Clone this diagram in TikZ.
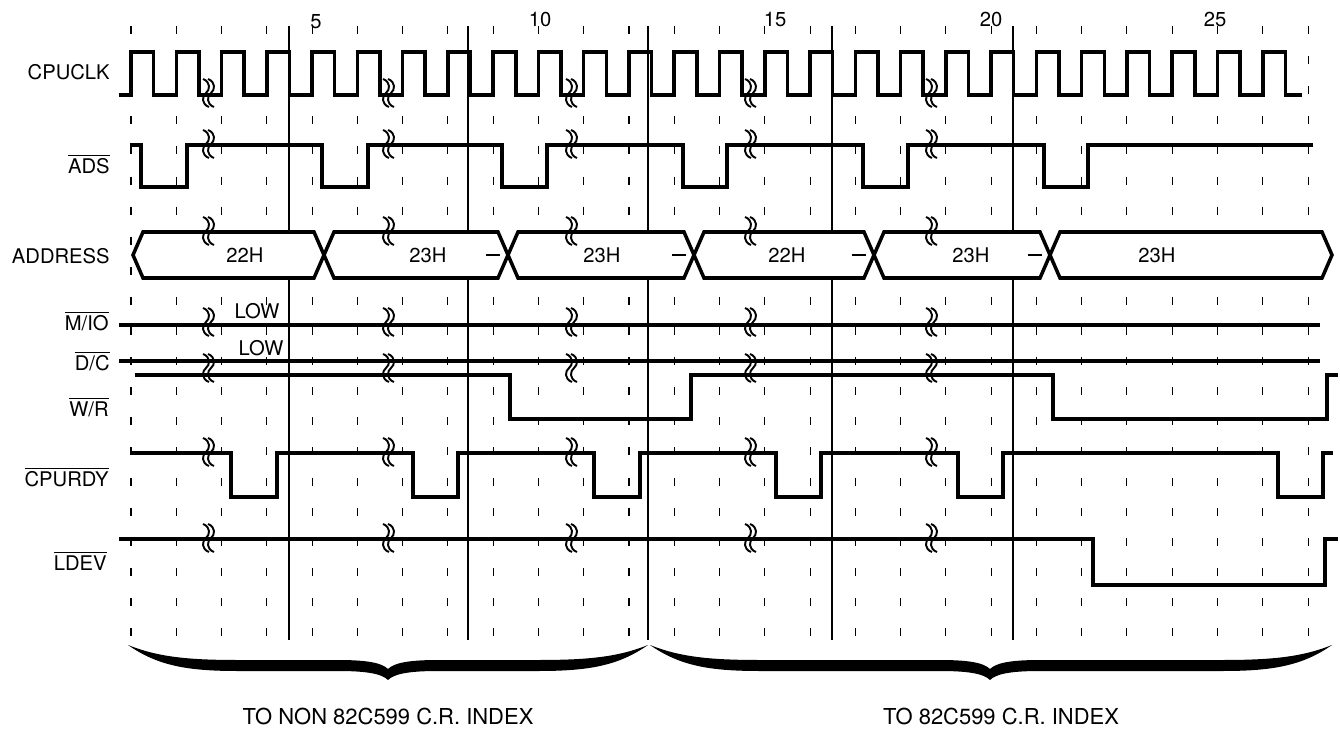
\documentclass[tikz,border=0pt]{standalone}
\usepackage{fontspec}
\setmainfont{TeX Gyre Heros}
\newcommand{\ovl}[1]{$\overline{\hbox{#1}}$}
\begin{document}
\begin{tikzpicture}[x=0.02cm,y=-0.02cm,
  sig/.style={line width=2pt, line join=miter, line cap=butt},
  tck/.style={line width=0.6pt},
  vline/.style={line width=0.6pt},
  squig/.style={line width=1.1pt},
  lbl/.style={anchor=base east, inner sep=0pt, font=\fontsize{11.5}{13}\selectfont},
  txt/.style={anchor=base, inner sep=0pt, font=\fontsize{11.5}{13}\selectfont},
  bigtxt/.style={anchor=base, inner sep=0pt, font=\fontsize{12.5}{14}\selectfont},
  squiggle/.pic={
    \draw[squig] (-5,-14) .. controls (3,-11) and (2,-3) .. (-2,0) .. controls (-6,3) and (-7,11) .. (1,14);
    \draw[squig] (0,-14) .. controls (8,-11) and (7,-3) .. (3,0) .. controls (-1,3) and (-2,11) .. (6,14);
  }]
\useasboundingbox (0,0) rectangle (1340,730);

% tick grid
\foreach \k in {0,...,26}{
  \foreach \n in {0,...,20}{
    \draw[tck] ({131+45.27*\k},{26+30.1*\n}) -- ++(0,8);
  }
}

% cycle boundaries
\foreach \x in {289,468,648,832,1013} \draw[vline] (\x,26) -- (\x,640);

% clock numbers
\node[txt] (n5)  at (316,29) {5};
\node[txt] (n10) at (540,27) {10};
\node[txt] (n15) at (775,27) {15};
\node[txt] (n20) at (991,27) {20};
\node[txt] (n25) at (1215,27) {25};

% labels
\node[lbl] (lclk)  at (110,79)  {CPUCLK};
\node[lbl] (lads)  at (110,173) {\ovl{ADS}};
\node[lbl] (laddr) at (110,263) {ADDRESS};
\node[lbl] (lmio)  at (109,330) {\ovl{M/IO}};
\node[lbl] (ldc)   at (110,370) {\ovl{D/C}};
\node[lbl] (lwr)   at (109,416) {\ovl{W/R}};
\node[lbl] (lrdy)  at (109,486) {\ovl{CPURDY}};
\node[lbl] (ldev)  at (107,570) {\ovl{LDEV}};

% CPUCLK
\draw[sig] (119,95) \foreach \k in {0,...,25}{
  -- ({131+45.27*\k},95) -- ({131+45.27*\k},52) -- ({153.6+45.27*\k},52) -- ({153.6+45.27*\k},95) } -- (1302,95);

% ADS
\draw[sig] (130,145) \foreach \a/\b in {141/187,322/368,502/547,683/727,863/908,1044/1088}{
  -- (\a,145) -- (\a,187) -- (\b,187) -- (\b,145) } -- (1313,145);

% ADDRESS
\foreach \a/\b in {133/324,324/508,508/694,694/874,874/1050,1050/1332}
  \draw[sig, fill=white] (\a,255) -- ({\a+10},232) -- ({\b-10},232) -- (\b,255) -- ({\b-10},278) -- ({\a+10},278) -- cycle;
\foreach \b in {508,694,874,1050}
  \draw[line width=1.5pt] ({\b-22},255) -- ({\b-8},255);
\node[txt] (a1) at (245,262)  {22H};
\node[txt] (a2) at (428,262)  {23H};
\node[txt] (a3) at (602,262)  {23H};
\node[txt] (a4) at (787,262)  {22H};
\node[txt] (a5) at (971,262)  {23H};
\node[txt] (a6) at (1157,262) {23H};

% M/IO and D/C
\draw[sig] (119,325) -- (1320,325);
\draw[sig] (119,361) -- (1320,361);
\node[txt] (low1) at (257,318) {LOW};
\node[txt] (low2) at (261,355) {LOW};

% W/R
\draw[sig] (135,375) -- (510,375) -- (510,419) -- (691,419) -- (691,375) -- (1053,375) -- (1053,419) -- (1327,419) -- (1327,375) -- (1338,375);

% CPURDY
\draw[sig] (130,453) \foreach \a/\b in {231/277,413/458,594/640,776/821,958/1003,1278/1323}{
  -- (\a,453) -- (\a,497) -- (\b,497) -- (\b,453) } -- (1333,453);

% LDEV
\draw[sig] (119,539) -- (1093,539) -- (1093,585) -- (1325,585) -- (1325,539) -- (1338,539);

% break marks
\foreach \x in {208,388,571,750,931}
  \foreach \y in {93,144,231,322,368,452,538}
    \pic at (\x,\y) {squiggle};

% braces
\foreach \l/\m/\r in {128/388/648,650/990/1332}{
  \fill (\l,645) .. controls ({\l+30},666) and ({\l+60},671) .. ({\l+110},671)
    -- ({\m-50},671) .. controls ({\m-20},671) and ({\m-6},674) .. (\m,680)
    .. controls ({\m+6},674) and ({\m+20},671) .. ({\m+50},671)
    -- ({\r-110},671) .. controls ({\r-60},671) and ({\r-30},666) .. (\r,645)
    .. controls ({\r-30},657) and ({\r-60},660) .. ({\r-110},660)
    -- ({\m+50},660) .. controls ({\m+20},660) and ({\m+6},663) .. (\m,669)
    .. controls ({\m-6},663) and ({\m-20},660) .. ({\m-50},660)
    -- ({\l+110},660) .. controls ({\l+60},660) and ({\l+30},657) .. (\l,645) -- cycle;
}

\node[bigtxt] (t1) at (388,724)  {TO NON 82C599 C.R. INDEX};
\node[bigtxt] (t2) at (1001,724) {TO 82C599 C.R. INDEX};
\end{tikzpicture}
\end{document}
